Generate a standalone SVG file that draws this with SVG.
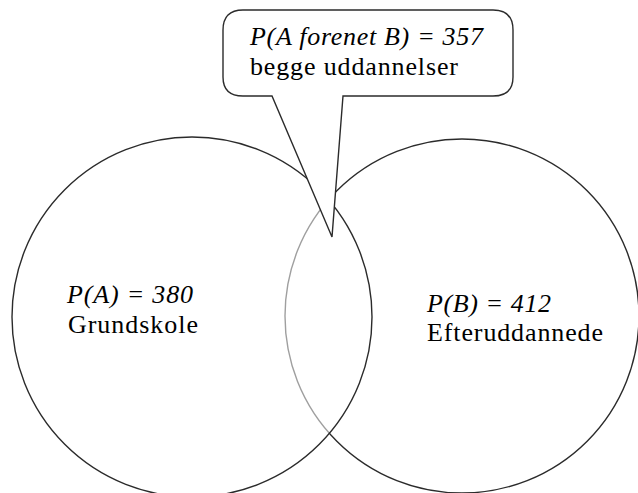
<svg xmlns="http://www.w3.org/2000/svg" width="638" height="493" viewBox="0 0 638 493">
  <style>
    .ring { fill: none; stroke: #2b2b2b; stroke-width: 1.4; }
    .callout { fill: #ffffff; stroke: #2b2b2b; stroke-width: 1.4; stroke-linejoin: miter; }
  </style>
  <rect x="0" y="0" width="638" height="493" fill="#ffffff"/>
  <g id="setB">
    <circle class="ring" cx="462" cy="316" r="177"/>
  </g>
  <g id="setA">
    <circle cx="192" cy="317" r="180" fill="#ffffff" fill-opacity="0.55" stroke="#2b2b2b" stroke-width="1.4"/>
  </g>
  <g id="labelA" font-family="Liberation Serif" font-size="26" fill="#000000">
    <text x="67" y="303" font-family="Liberation Serif" font-style="italic" textLength="126">P(A) = 380</text>
    <text x="68" y="333" font-family="Liberation Serif" textLength="130">Grundskole</text>
  </g>
  <g id="labelB" font-family="Liberation Serif" font-size="26" fill="#000000">
    <text x="427" y="312" font-family="Liberation Serif" font-style="italic" textLength="124">P(B) = 412</text>
    <text x="427" y="341" font-family="Liberation Serif" textLength="176">Efteruddannede</text>
  </g>
  <g id="callout" font-family="Liberation Serif" font-size="26" fill="#000000">
    <path class="callout" d="M 243 10 H 493 Q 513 10 513 30 V 77 Q 513 96 493 96 H 343 L 332 237 L 272 96 H 243 Q 223 96 223 77 V 30 Q 223 10 243 10 Z"/>
    <text x="250" y="45" font-family="Liberation Serif" font-style="italic" textLength="233">P(A forenet B) = 357</text>
    <text x="250" y="75" font-family="Liberation Serif" textLength="208">begge uddannelser</text>
  </g>
</svg>
